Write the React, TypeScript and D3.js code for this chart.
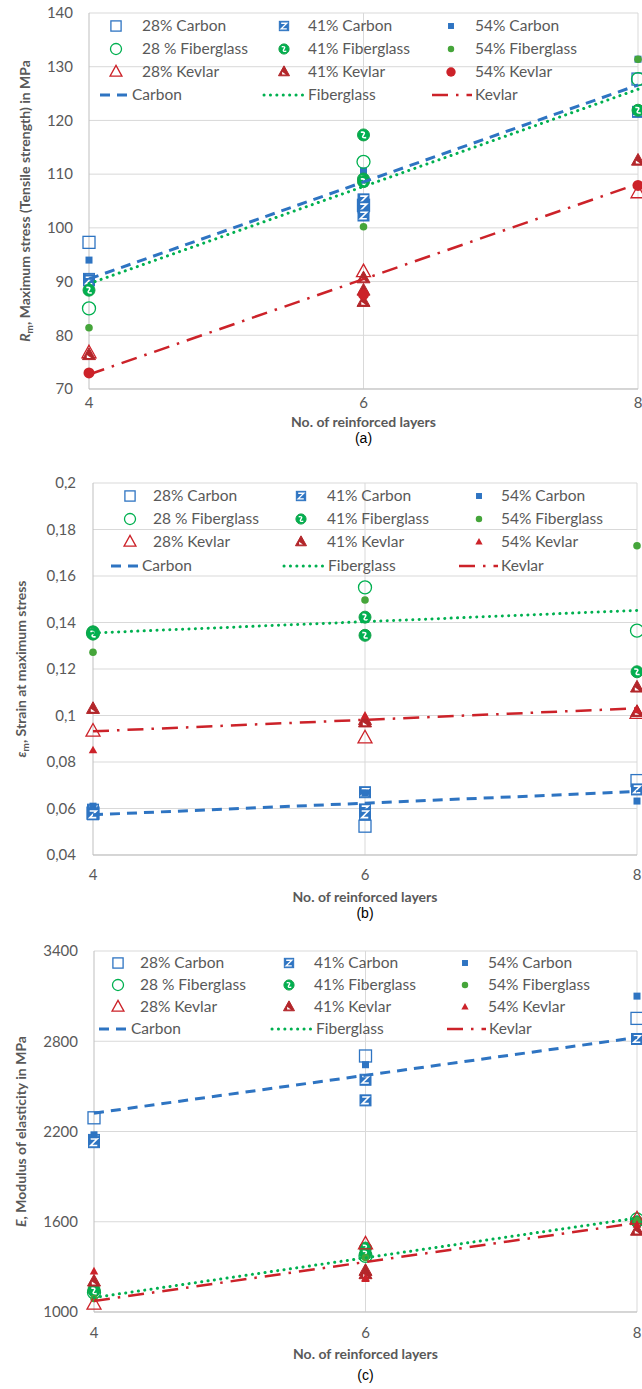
import React from 'react'
import * as d3 from 'd3'

type Pt = [number, number]

const layers = [4, 6, 8]
const seriesNames = ['28% Carbon', '41% Carbon', '54% Carbon', '28 % Fiberglass', '41% Fiberglass', '54% Fiberglass', '28% Kevlar', '41% Kevlar', '54% Kevlar']
const trendNames = ['Carbon', 'Fiberglass', 'Kevlar']

// (a) maximum stress, MPa
const rmTicks = [70, 80, 90, 100, 110, 120, 130, 140]
const rmCarbon28: Pt[] = [[4, 97.3], [6, 104.2], [8, 127.7]]
const rmCarbon41: Pt[] = [[4, 90.5], [4, 90.2], [6, 105.3], [6, 103.8], [6, 102.3], [8, 121.6]]
const rmCarbon54: Pt[] = [[4, 94], [6, 110.6], [8, 131.4]]
const rmFiber28: Pt[] = [[4, 85], [6, 112.3], [8, 127.7]]
const rmFiber41: Pt[] = [[4, 88.4], [6, 117.3], [6, 109.1], [6, 108.6], [8, 121.9]]
const rmFiber54: Pt[] = [[4, 81.4], [6, 100.2], [8, 131.4]]
const rmKevlar28: Pt[] = [[4, 76.7], [6, 91.8], [8, 106.5]]
const rmKevlar41: Pt[] = [[4, 76.3], [6, 90.6], [6, 88.3], [6, 86.2], [8, 112.5]]
const rmKevlar54: Pt[] = [[4, 73], [6, 87.6], [8, 107.9]]
const rmCarbonTrend: Pt[] = [[4, 90.5], [8, 126.6]]
const rmFiberTrend: Pt[] = [[4, 89.6], [8, 125.8]]
const rmKevlarTrend: Pt[] = [[4, 72.7], [8, 108.2]]

// (b) strain at maximum stress
const epsTicks = [0.04, 0.06, 0.08, 0.1, 0.12, 0.14, 0.16, 0.18, 0.2]
const epsCarbon28: Pt[] = [[4, 0.058], [6, 0.0524], [8, 0.072]]
const epsCarbon41: Pt[] = [[4, 0.0595], [4, 0.0575], [6, 0.067], [6, 0.0596], [6, 0.0575], [8, 0.0682]]
const epsCarbon54: Pt[] = [[4, 0.061], [6, 0.0667], [8, 0.0632]]
const epsFiber28: Pt[] = [[4, 0.1355], [6, 0.1551], [8, 0.1365]]
const epsFiber41: Pt[] = [[4, 0.136], [4, 0.135], [6, 0.1423], [6, 0.1345], [8, 0.1188]]
const epsFiber54: Pt[] = [[4, 0.1272], [6, 0.1497], [8, 0.173]]
const epsKevlar28: Pt[] = [[4, 0.0932], [6, 0.0903], [8, 0.1008]]
const epsKevlar41: Pt[] = [[4, 0.1028], [6, 0.098], [6, 0.097], [8, 0.112], [8, 0.1015]]
const epsKevlar54: Pt[] = [[4, 0.085], [6, 0.0999], [8, 0.1022]]
const epsCarbonTrend: Pt[] = [[4, 0.0573], [8, 0.0673]]
const epsFiberTrend: Pt[] = [[4, 0.1355], [8, 0.1452]]
const epsKevlarTrend: Pt[] = [[4, 0.0932], [8, 0.1031]]

// (c) modulus of elasticity, MPa
const eTicks = [1000, 1600, 2200, 2800, 3400]
const eCarbon28: Pt[] = [[4, 2291], [6, 2702], [8, 2952]]
const eCarbon41: Pt[] = [[4, 2144], [4, 2129], [6, 2544], [6, 2407], [8, 2815]]
const eCarbon54: Pt[] = [[4, 2178], [6, 2644], [8, 3100]]
const eFiber28: Pt[] = [[4, 1130], [6, 1373], [8, 1615]]
const eFiber41: Pt[] = [[4, 1150], [4, 1140], [6, 1425], [6, 1385], [8, 1600]]
const eFiber54: Pt[] = [[4, 1090], [6, 1362], [8, 1608]]
const eKevlar28: Pt[] = [[4, 1051], [6, 1451], [8, 1618]]
const eKevlar41: Pt[] = [[4, 1202], [6, 1273], [6, 1251], [8, 1540]]
const eKevlar54: Pt[] = [[4, 1269], [6, 1225], [6, 1218], [8, 1580]]
const eCarbonTrend: Pt[] = [[4, 2322], [8, 2825]]
const eFiberTrend: Pt[] = [[4, 1096], [8, 1625]]
const eKevlarTrend: Pt[] = [[4, 1073], [8, 1592]]

const BLUE = '#2E74C2'
const GREEN = '#00B050'
const GREEN_DOT = '#45A53A'
const RED = '#CC2229'
const DARKRED = '#B3262A'
const GREY = '#595959'
const FONT = 'Lato, "Noto Sans", sans-serif'

function Marker({ kind, x, y, k = 1 }: { kind: string; x: number; y: number; k?: number }) {
  const t = `translate(${x},${y})`
  if (kind === 'sqOpen') {
    const s = 12 * k
    return <rect transform={t} x={-s / 2} y={-s / 2} width={s} height={s} fill="none" stroke={BLUE} strokeWidth={1.3} />
  }
  if (kind === 'sqPat') {
    const s = 11 * k
    const a = s * 0.3
    return (
      <g transform={t}>
        <rect x={-s / 2} y={-s / 2} width={s} height={s} fill={BLUE} stroke={BLUE} strokeWidth={1} />
        <path d={`M${-a},${-a} L${a},${-a} L${-a},${a} L${a},${a}`} fill="none" stroke="#fff" strokeWidth={1.6 * k} />
      </g>
    )
  }
  if (kind === 'sqFill') {
    const s = 7 * k
    return <rect transform={t} x={-s / 2} y={-s / 2} width={s} height={s} fill={BLUE} />
  }
  if (kind === 'ciOpen') return <circle transform={t} r={6.5 * k} fill="none" stroke={GREEN} strokeWidth={1.3} />
  if (kind === 'ciPat') {
    const r = 6 * k
    const a = r * 0.45
    return (
      <g transform={t}>
        <circle r={r} fill={GREEN} stroke="#17A34A" strokeWidth={1} />
        <path d={`M${-a},${-a} Q${a},${-a * 1.2} ${0},0 T${a},${a}`} fill="none" stroke="#fff" strokeWidth={1.6 * k} />
      </g>
    )
  }
  if (kind === 'ciFill') return <circle transform={t} r={3.8 * k} fill={GREEN_DOT} />
  if (kind === 'ciRed') return <circle transform={t} r={5.5 * k} fill={RED} />
  const w = (kind === 'trFill' ? 8.5 : kind === 'trPat' ? 13 : 14) * k
  const h = w * 0.9
  const tri = `M0,${-h * 0.62} L${w / 2},${h * 0.38} L${-w / 2},${h * 0.38} Z`
  if (kind === 'trOpen') return <path transform={t} d={tri} fill="none" stroke={RED} strokeWidth={1.3} />
  if (kind === 'trPat') {
    return (
      <g transform={t}>
        <path d={tri} fill={DARKRED} stroke={DARKRED} strokeWidth={1} />
        <path d={`M${-w * 0.17},${-h * 0.02} L${-w * 0.17},${h * 0.24} L${w * 0.17},${h * 0.24} Z`} fill="#fff" />
      </g>
    )
  }
  return <path transform={t} d={tri} fill={RED} />
}

const lineStyles = [
  { stroke: BLUE, width: 3, dash: '10 7', cap: 'butt' },
  { stroke: GREEN, width: 3, dash: '0.1 6.3', cap: 'round' },
  { stroke: RED, width: 2.5, dash: '16 8 2.5 8', cap: 'butt' },
]

type PanelCfg = {
  data: Pt[][]
  trends: Pt[][]
  kinds: string[]
  ticks: number[]
  fmt: (v: number) => string
  box: { l: number; r: number; t: number; b: number }
  tickEnd: number
  xLabelY: number
  xTitleY: number
  caption: string
  captionY: number
  yTitle: React.ReactNode
  yTitleX: number
  legRows: number[]
  legMark: number[]
  legText: number[]
  legLines: [number, number][]
}

function Panel({ cfg }: { cfg: PanelCfg }) {
  const { box } = cfg
  const x = d3.scaleLinear().domain([4, 8]).range([box.l, box.r])
  const y = d3.scaleLinear().domain(d3.extent(cfg.ticks) as [number, number]).range([box.b, box.t])
  const line = d3.line<Pt>().x(d => x(d[0])).y(d => y(d[1]))
  const cx = (box.l + box.r) / 2
  const cy = (box.t + box.b) / 2
  return (
    <g>
      {cfg.ticks.map(v => (
        <line key={'g' + v} x1={box.l} x2={box.r} y1={y(v)} y2={y(v)} stroke="#D9D9D9" strokeWidth={1} />
      ))}
      {layers.slice(1).map(v => (
        <line key={'v' + v} x1={x(v)} x2={x(v)} y1={box.t} y2={box.b} stroke="#D9D9D9" strokeWidth={1} />
      ))}
      <line x1={box.l} x2={box.l} y1={box.t} y2={box.b} stroke="#BFBFBF" />
      <line x1={box.l} x2={box.r} y1={box.b} y2={box.b} stroke="#BFBFBF" />
      {cfg.ticks.map(v => (
        <text key={'t' + v} x={cfg.tickEnd} y={y(v)} dy="0.35em" textAnchor="end" fontSize={15} fill={GREY} fontFamily={FONT}>
          {cfg.fmt(v)}
        </text>
      ))}
      {layers.map(v => (
        <text key={'x' + v} x={x(v)} y={cfg.xLabelY} textAnchor="middle" fontSize={15} fill={GREY} fontFamily={FONT}>
          {v}
        </text>
      ))}
      <text x={cx} y={cfg.xTitleY} textAnchor="middle" fontSize={14} fontWeight="bold" fill={GREY} fontFamily={FONT}>
        No. of reinforced layers
      </text>
      <text x={cx} y={cfg.captionY} textAnchor="middle" fontSize={14} fill="#000" fontFamily='"Liberation Sans", Arial, sans-serif'>
        {cfg.caption}
      </text>
      <text transform={`translate(${cfg.yTitleX},${cy}) rotate(-90)`} textAnchor="middle" fontSize={14} fontWeight="bold" fill={GREY} fontFamily={FONT}>
        {cfg.yTitle}
      </text>

      {cfg.data.map((pts, i) => (
        <g key={'s' + i}>
          {pts.map((p, j) => (
            <Marker key={j} kind={cfg.kinds[i]} x={x(p[0])} y={y(p[1])} />
          ))}
        </g>
      ))}
      {cfg.trends.map((pts, i) => (
        <path key={'tr' + i} d={line(pts) || ''} fill="none" stroke={lineStyles[i].stroke} strokeWidth={lineStyles[i].width}
          strokeDasharray={lineStyles[i].dash} strokeLinecap={lineStyles[i].cap as any} />
      ))}

      {seriesNames.map((name, i) => {
        const col = i % 3
        const row = Math.floor(i / 3)
        return (
          <g key={'l' + i}>
            <Marker kind={cfg.kinds[i]} x={cfg.legMark[col]} y={cfg.legRows[row]} k={0.85} />
            <text x={cfg.legText[col]} y={cfg.legRows[row]} dy="0.35em" fontSize={15.5} fill={GREY} fontFamily={FONT}>
              {name}
            </text>
          </g>
        )
      })}
      {trendNames.map((name, i) => (
        <g key={'lt' + i}>
          <line x1={cfg.legLines[i][0]} x2={cfg.legLines[i][1]} y1={cfg.legRows[3]} y2={cfg.legRows[3]}
            stroke={lineStyles[i].stroke} strokeWidth={lineStyles[i].width} strokeDasharray={lineStyles[i].dash}
            strokeLinecap={lineStyles[i].cap as any} />
          <text x={cfg.legLines[i][1] + 3} y={cfg.legRows[3]} dy="0.35em" fontSize={15.5} fill={GREY} fontFamily={FONT}>
            {name}
          </text>
        </g>
      ))}
    </g>
  )
}

const kindsA = ['sqOpen', 'sqPat', 'sqFill', 'ciOpen', 'ciPat', 'ciFill', 'trOpen', 'trPat', 'ciRed']
const kindsBC = ['sqOpen', 'sqPat', 'sqFill', 'ciOpen', 'ciPat', 'ciFill', 'trOpen', 'trPat', 'trFill']

const panelA: PanelCfg = {
  data: [rmCarbon28, rmCarbon41, rmCarbon54, rmFiber28, rmFiber41, rmFiber54, rmKevlar28, rmKevlar41, rmKevlar54],
  trends: [rmCarbonTrend, rmFiberTrend, rmKevlarTrend],
  kinds: kindsA,
  ticks: rmTicks,
  fmt: v => String(v),
  box: { l: 89, r: 638, t: 13, b: 389 },
  tickEnd: 73,
  xLabelY: 408,
  xTitleY: 427,
  caption: '(a)',
  captionY: 443,
  yTitle: (
    <>
      <tspan fontStyle="italic">R</tspan>
      <tspan fontSize={10} dy={3}>m</tspan>
      <tspan dy={-3}>, Maximum stress (Tensile strength) in MPa</tspan>
    </>
  ),
  yTitleX: 30,
  legRows: [26, 49, 72, 95],
  legMark: [116, 284, 451],
  legText: [142, 308, 475],
  legLines: [[100, 129], [264, 305], [432, 472]],
}

const panelB: PanelCfg = {
  data: [epsCarbon28, epsCarbon41, epsCarbon54, epsFiber28, epsFiber41, epsFiber54, epsKevlar28, epsKevlar41, epsKevlar54],
  trends: [epsCarbonTrend, epsFiberTrend, epsKevlarTrend],
  kinds: kindsBC,
  ticks: epsTicks,
  fmt: v => d3.format('~g')(+v.toFixed(2)).replace('.', ','),
  box: { l: 93, r: 637, t: 483, b: 855 },
  tickEnd: 76,
  xLabelY: 880,
  xTitleY: 902,
  caption: '(b)',
  captionY: 918,
  yTitle: (
    <>
      <tspan fontStyle="italic">ε</tspan>
      <tspan fontSize={10} dy={3}>m</tspan>
      <tspan dy={-3}>, Strain at maximum stress</tspan>
    </>
  ),
  yTitleX: 26,
  legRows: [496, 519, 542, 566],
  legMark: [130, 301, 479],
  legText: [153, 327, 501],
  legLines: [[111, 139], [284, 325], [459, 498]],
}

const panelC: PanelCfg = {
  data: [eCarbon28, eCarbon41, eCarbon54, eFiber28, eFiber41, eFiber54, eKevlar28, eKevlar41, eKevlar54],
  trends: [eCarbonTrend, eFiberTrend, eKevlarTrend],
  kinds: kindsBC,
  ticks: eTicks,
  fmt: v => String(v),
  box: { l: 94, r: 637, t: 951, b: 1312 },
  tickEnd: 78,
  xLabelY: 1338,
  xTitleY: 1359,
  caption: '(c)',
  captionY: 1380,
  yTitle: (
    <>
      <tspan fontStyle="italic">E</tspan>
      <tspan>, Modulus of elasticity in MPa</tspan>
    </>
  ),
  yTitleX: 26,
  legRows: [963, 985, 1007, 1029],
  legMark: [118, 289, 465],
  legText: [140, 314, 488],
  legLines: [[99, 128], [272, 313], [447, 486]],
}

export default function App() {
  return (
    <div style={{ position: 'absolute', left: 0, top: 0 }}>
      <svg width={642} height={1389} style={{ display: 'block', background: '#fff' }}>
        <Panel cfg={panelA} />
        <Panel cfg={panelB} />
        <Panel cfg={panelC} />
      </svg>
    </div>
  )
}
